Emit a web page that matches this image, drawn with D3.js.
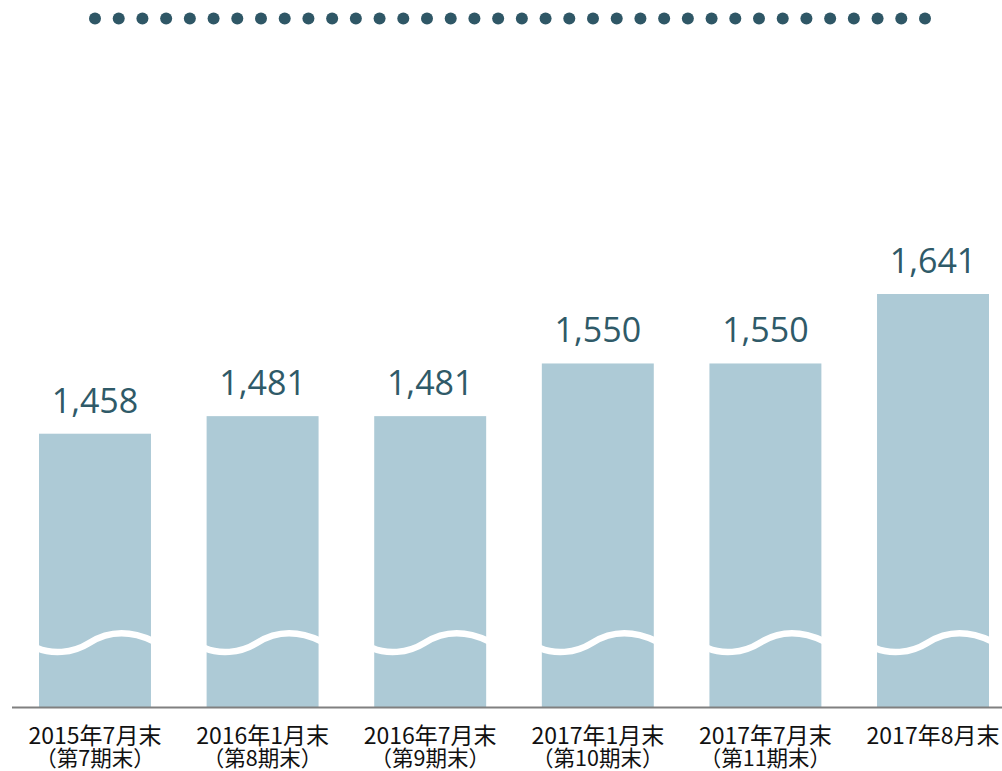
<!DOCTYPE html>
<meta charset="utf-8">
<script src="https://d3js.org/d3.v7.min.js"></script>
<style>
body { margin: 0; background: #fff; }
.value { font-family: "Open Sans", "Noto Sans", sans-serif; font-size: 34px; fill: #2f5a68; }
.xlab { font-family: "Noto Sans CJK JP", sans-serif; font-size: 23px; fill: #111; }
.xsub { font-family: "Noto Sans CJK JP", sans-serif; font-size: 21.5px; fill: #111; }
</style>
<div id="chart"></div>
<script>
var periods = ["2015年7月末", "2016年1月末", "2016年7月末", "2017年1月末", "2017年7月末", "2017年8月末"];
var subLabels = ["（第7期末）", "（第8期末）", "（第9期末）", "（第10期末）", "（第11期末）", ""];
var values = [1458, 1481, 1481, 1550, 1550, 1641];

var width = 1002, height = 771;
var svg = d3.select("#chart").append("svg").attr("width", width).attr("height", height);

// dotted rule at the top
var dotCount = 36;
var dotX = d3.scaleLinear().domain([0, dotCount - 1]).range([95, 925]);
svg.append("g").selectAll("circle").data(d3.range(dotCount)).enter().append("circle")
  .attr("cx", function(d) { return dotX(d); })
  .attr("cy", 18.5)
  .attr("r", 6)
  .style("fill", "#2f5766");

var x = d3.scaleBand().domain(periods).range([39, 989]).paddingInner(0.332).paddingOuter(0);
// axis is broken, so it starts well above zero
var y = d3.scaleLinear().domain([1100, 1641]).range([707, 294]);

var bars = svg.append("g").selectAll("g").data(periods).enter().append("g");

bars.append("rect")
  .attr("x", function(d) { return x(d); })
  .attr("y", function(d, i) { return y(values[i]); })
  .attr("width", x.bandwidth())
  .attr("height", function(d, i) { return y(1100) - y(values[i]); })
  .style("fill", "#adcad6");

// wavy break mark across each bar
bars.append("path")
  .attr("d", function(d) {
    var x0 = x(d) - 2, w = x.bandwidth() + 4;
    return "M" + x0 + ",648" +
      " C" + (x0 + w * 0.12) + ",654 " + (x0 + w * 0.3) + ",654 " + (x0 + w * 0.45) + ",643" +
      " S" + (x0 + w * 0.78) + ",629 " + (x0 + w) + ",641";
  })
  .style("fill", "none")
  .style("stroke", "#fff")
  .style("stroke-width", 6.5);

bars.append("text").attr("class", "value")
  .attr("x", function(d) { return x(d) + x.bandwidth() / 2; })
  .attr("y", function(d, i) { return y(values[i]) - 21; })
  .style("text-anchor", "middle")
  .text(function(d, i) { return d3.format(",")(values[i]); });

// baseline
svg.append("line").attr("x1", 12).attr("x2", width).attr("y1", 707.5).attr("y2", 707.5)
  .style("stroke", "#808080").style("stroke-width", 2);

bars.append("text").attr("class", "xlab")
  .attr("x", function(d) { return x(d) + x.bandwidth() / 2; })
  .attr("y", 744)
  .style("text-anchor", "middle")
  .text(function(d) { return d; });

bars.append("text").attr("class", "xsub")
  .attr("x", function(d) { return x(d) + x.bandwidth() / 2; })
  .attr("y", 766)
  .style("text-anchor", "middle")
  .text(function(d, i) { return subLabels[i]; });
</script>
